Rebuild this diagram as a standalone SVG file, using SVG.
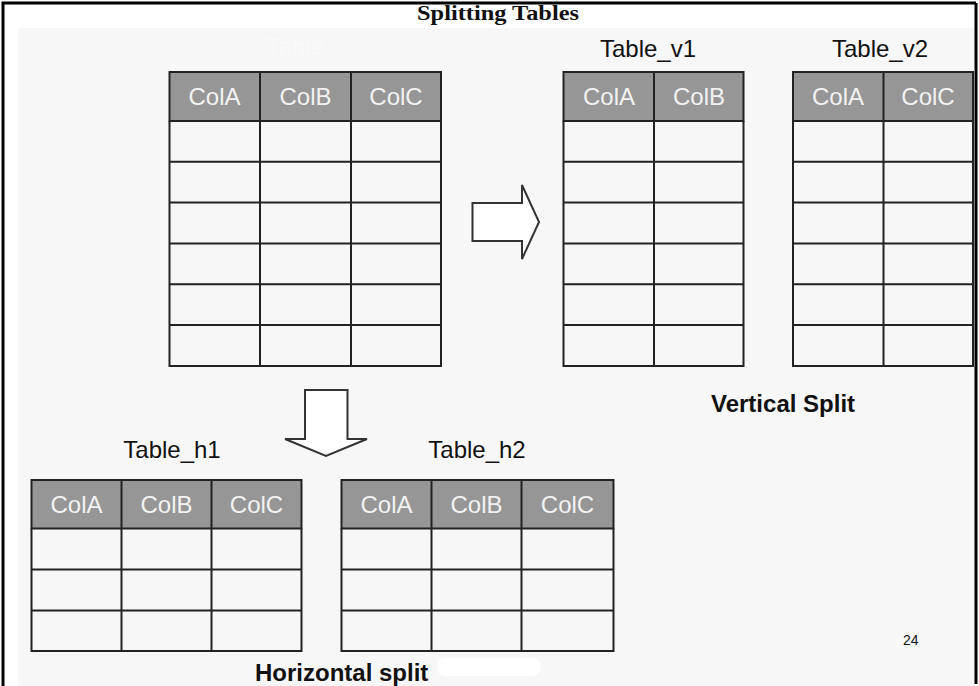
<svg xmlns="http://www.w3.org/2000/svg" width="979" height="686" viewBox="0 0 979 686">
<style>
.hdr{fill:#969696;stroke:#222;stroke-width:2}
.cell{fill:none;stroke:#222;stroke-width:2}
.ht{font-family:"Liberation Sans",Arial,sans-serif;font-size:24px;fill:#f2f2f2;text-anchor:middle}
.lbl{font-family:"Liberation Sans",Arial,sans-serif;font-size:24px;fill:#111;text-anchor:middle}
.bold{font-family:"Liberation Sans",Arial,sans-serif;font-size:24px;font-weight:bold;fill:#111}
.arrow{fill:#fff;stroke:#333;stroke-width:2;stroke-linejoin:miter}
</style>
<rect x="0" y="0" width="979" height="686" fill="#fff"/>
<rect x="18" y="28" width="957" height="658" fill="#f7f7f7"/>
<g id="frame" fill="none" stroke="#000" stroke-width="3">
<polyline points="3,686 3,3 976,3"/>
<line x1="976" y1="3" x2="976" y2="684"/>
</g>
<text x="498" y="20" font-family="'Liberation Serif','Times New Roman',serif" font-size="20" font-weight="bold" text-anchor="middle" fill="#111" textLength="162" lengthAdjust="spacingAndGlyphs">Splitting Tables</text>
<text x="295" y="55" class="lbl" style="fill:#fafafa">Table</text>
<g id="table">
<rect class="hdr" x="169.5" y="72" width="271.5" height="49"/>
<path class="cell" d="M169.5,121V366H441V121M169.5,161.8H441M169.5,202.6H441M169.5,243.4H441M169.5,284.2H441M169.5,325H441M260,72V366M351,72V366"/>
<text class="ht" x="214.5" y="105">ColA</text>
<text class="ht" x="305.5" y="105">ColB</text>
<text class="ht" x="396" y="105">ColC</text>
</g>
<g id="table_v1">
<text class="lbl" x="648" y="57">Table_v1</text>
<rect class="hdr" x="563.5" y="72" width="180" height="49"/>
<path class="cell" d="M563.5,121V366H743.5V121M563.5,161.8H743.5M563.5,202.6H743.5M563.5,243.4H743.5M563.5,284.2H743.5M563.5,325H743.5M654,72V366"/>
<text class="ht" x="609" y="105">ColA</text>
<text class="ht" x="699" y="105">ColB</text>
</g>
<g id="table_v2">
<text class="lbl" x="880" y="57">Table_v2</text>
<rect class="hdr" x="793" y="72" width="180" height="49"/>
<path class="cell" d="M793,121V366H973V121M793,161.8H973M793,202.6H973M793,243.4H973M793,284.2H973M793,325H973M883.5,72V366"/>
<text class="ht" x="838" y="105">ColA</text>
<text class="ht" x="928" y="105">ColC</text>
</g>
<g id="table_h1">
<text class="lbl" x="172" y="458">Table_h1</text>
<rect class="hdr" x="31.5" y="480" width="270" height="48.5"/>
<path class="cell" d="M31.5,528.5V651H301.5V528.5M31.5,569.5H301.5M31.5,610.5H301.5M121.5,480V651M211.5,480V651"/>
<text class="ht" x="76.5" y="513">ColA</text>
<text class="ht" x="166.5" y="513">ColB</text>
<text class="ht" x="256.5" y="513">ColC</text>
</g>
<g id="table_h2">
<text class="lbl" x="477" y="458">Table_h2</text>
<rect class="hdr" x="341.5" y="480" width="272" height="48.5"/>
<path class="cell" d="M341.5,528.5V651H613.5V528.5M341.5,569.5H613.5M341.5,610.5H613.5M431.5,480V651M521.5,480V651"/>
<text class="ht" x="386.5" y="513">ColA</text>
<text class="ht" x="476.5" y="513">ColB</text>
<text class="ht" x="567.5" y="513">ColC</text>
</g>
<g id="connectors">
<polygon class="arrow" points="472.5,203 522,203 522,185 539,222 522,259 522,241 472.5,241"/>
<polygon class="arrow" points="305,390 347.5,390 347.5,439 367,439 326,456 285,439 305,439"/>
</g>
<text class="bold" x="711" y="412">Vertical Split</text>
<text class="bold" x="255" y="681">Horizontal split</text>
<rect x="437" y="658" width="104" height="18" rx="8" fill="#fff"/>
<text x="903" y="645" font-family="'Liberation Sans',Arial,sans-serif" font-size="14" fill="#111">24</text>
</svg>
